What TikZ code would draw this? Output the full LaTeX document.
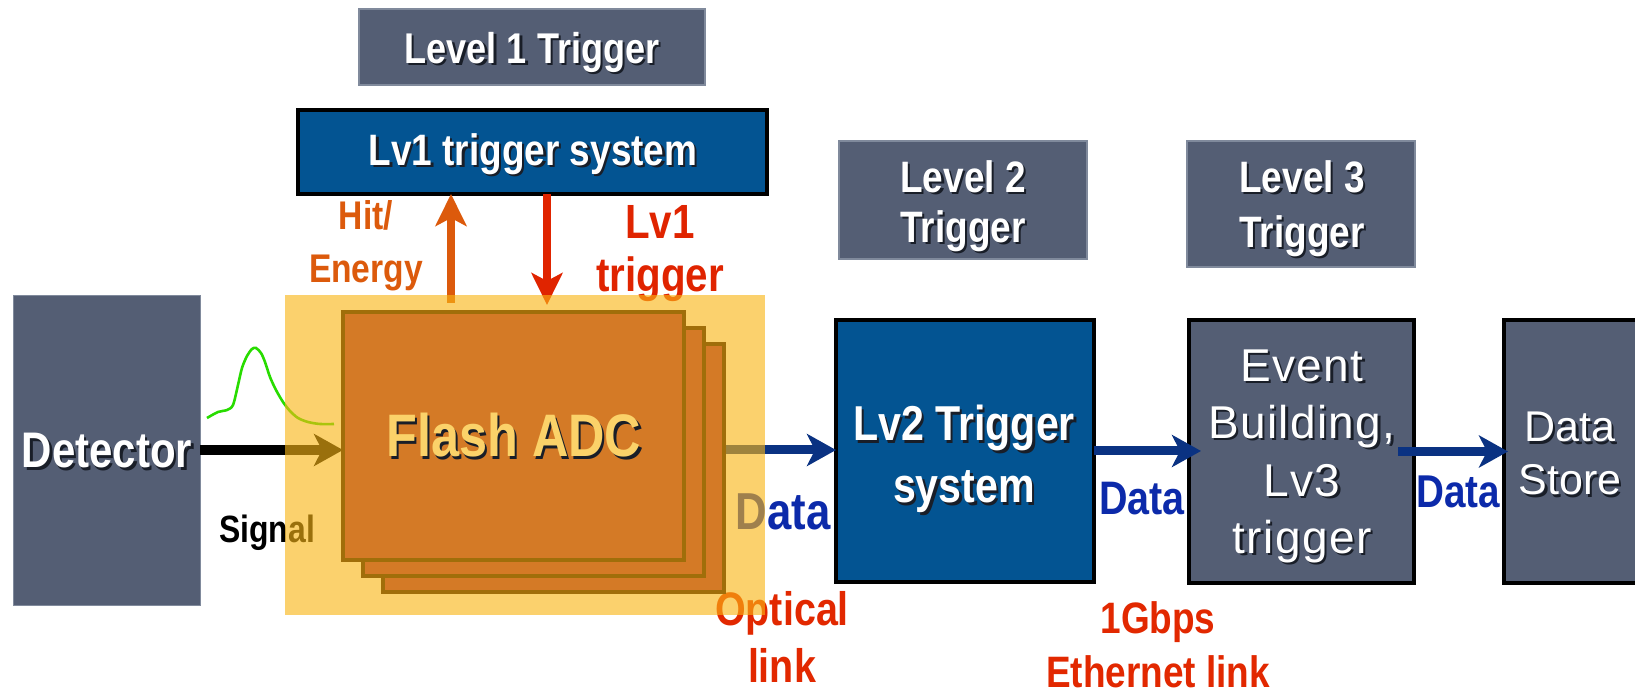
\documentclass[tikz,border=0pt]{standalone}
\usepackage{fontspec}
\setmainfont{Liberation Sans}
\newfontfamily\condfont[FakeStretch=0.84]{Liberation Sans}
\newfontfamily\widefont[LetterSpace=3]{Liberation Sans}
\usetikzlibrary{arrows.meta}

\definecolor{slate}{RGB}{84,94,116}
\definecolor{slateedge}{RGB}{128,138,156}
\definecolor{sysblue}{RGB}{3,84,146}
\definecolor{adcfill}{RGB}{212,122,38}
\definecolor{adcedge}{RGB}{160,110,10}
\definecolor{adctext}{RGB}{251,210,105}
\definecolor{haze}{RGB}{250,182,20}
\definecolor{datablue}{RGB}{12,42,170}
\definecolor{linkred}{RGB}{226,40,0}
\definecolor{hitorange}{RGB}{220,90,12}
\definecolor{trigred}{RGB}{224,36,0}
\definecolor{navy}{RGB}{10,50,130}
\definecolor{pulsegreen}{RGB}{40,220,0}
\definecolor{shade}{RGB}{25,30,40}

% white lettering with a small drop shadow
\newcommand\shd[1]{\makebox[0pt][l]{\kern1.2pt\raisebox{-1.2pt}{\textcolor{shade}{#1}}}#1}
\newcommand\fs[2]{\fontsize{#1}{#2}\selectfont}

\begin{document}
\begin{tikzpicture}[x=0.5pt,y=-0.5pt,
  blk/.style={rectangle, inner sep=0pt, outer sep=0pt},
  hdrbox/.style={blk, fill=slate, draw=slateedge, line width=0.6pt},
  sysbox/.style={blk, fill=sysblue, draw=black, line width=2pt},
  grybox/.style={blk, fill=slate, draw=black, line width=2pt},
  adcbox/.style={blk, fill=adcfill, draw=adcedge, line width=2pt,
                 minimum width=170.5pt, minimum height=124pt},
  lbl/.style={inner sep=0pt, align=center, anchor=north},
  bold/.style={lbl, font=\condfont\bfseries},
  thin/.style={lbl, font=\rmfamily},
  bigarrow/.style={-{Stealth[length=14.5pt,width=16pt,inset=4pt]}},
  vertarrow/.style={line width=4pt,-{Stealth[length=16pt,width=15.5pt,inset=4pt]}},
]
\useasboundingbox (0,0) rectangle (1635,694);
\fill[white] (0,0) rectangle (1635,694);

% ---- trigger level headers
\node[hdrbox, minimum width=173pt, minimum height=38pt] (hdr1) at (532,47) {};
\node[hdrbox, minimum width=124pt, minimum height=59pt] (hdr2) at (963,200) {};
\node[hdrbox, minimum width=114pt, minimum height=63pt] (hdr3) at (1301,204) {};
\node[bold, text=white, font=\condfont\bfseries\fs{21.5}{25}] (hdr1t) at (532,32) {\shd{Level 1 Trigger}};
\node[bold, text=white, font=\condfont\bfseries\fs{22}{25}] (hdr2t) at (963,160) {\shd{Level 2}\\\shd{Trigger}};
\node[bold, text=white, font=\condfont\bfseries\fs{22}{27.5}] (hdr3t) at (1302,160) {\shd{Level 3}\\\shd{Trigger}};

% ---- processing blocks
\node[sysbox, minimum width=234.5pt, minimum height=42pt] (lv1sys) at (532.5,152) {};
\node[bold, text=white, font=\condfont\bfseries\fs{22}{25}] (lv1syst) at (533,133) {\shd{Lv1 trigger system}};

\node[blk, fill=slate, draw=slateedge, line width=0.4pt, minimum width=93.5pt, minimum height=155pt] (det) at (106.5,450) {};
\node[bold, text=white, font=\condfont\bfseries\fs{25}{28}] (dett) at (107,433) {\shd{Detector}};

\node[sysbox, minimum width=129pt, minimum height=131pt] (lv2) at (965,451) {};
\node[bold, text=white, font=\condfont\bfseries\fs{24.5}{31}] (lv2t) at (964,405) {\shd{Lv2 Trigger}\\\shd{system}};

\node[grybox, minimum width=112.5pt, minimum height=131.5pt] (ev) at (1301.5,451.5) {};
\node[lbl, text=white, font=\widefont\fs{23}{28.75}] (evt) at (1302,349) {\shd{Event}\\\shd{Building,}\\\shd{Lv3}\\\shd{trigger}};

\node[grybox, minimum width=73pt, minimum height=131.5pt] (ds) at (1577,451.5) {};
\node[thin, text=white, font=\rmfamily\fs{21.5}{26.5}] (dst) at (1570,412) {\shd{Data}\\\shd{Store}};

% ---- signal path into the digitiser
\coordinate (hitfoot) at (451,303);
\coordinate (trigfoot) at (547,305);
\coordinate (fadcin) at (343,450);
\coordinate (fadcout) at (723,450);

\draw[bigarrow, line width=5pt, black] (det.east) -- (fadcin);
\draw[pulsegreen, line width=1.3pt] plot[smooth] coordinates {
  (207,418) (218,412) (227,410) (233,405) (238,385) (242,368) (247,356)
  (252,349) (256,348) (261,353) (265,362) (270,377) (276,390) (283,402)
  (290,411) (298,418) (308,422) (320,424) (334,424)};
\node[bold, text=black, font=\condfont\bfseries\fs{19}{22}] (sigt) at (267,515) {Signal};

% ---- level 1 exchange
\draw[vertarrow, hitorange] (hitfoot) -- (hitfoot |- lv1sys.south);
\draw[vertarrow, trigred] (trigfoot |- lv1sys.south) -- (trigfoot);
\node[bold, text=hitorange, font=\condfont\bfseries\fs{20}{26.5}] (hitt) at (366,200) {Hit/\\Energy};
\node[bold, text=trigred, font=\condfont\bfseries\fs{24}{26.5}] (lv1t) at (660,205) {Lv1\\trigger};

% ---- data links
\draw[bigarrow, line width=4.5pt, navy] (fadcout) -- (fadcout -| lv2.west);
\draw[bigarrow, line width=4.5pt, navy, shorten >=-6pt] (lv2.east) -- (lv2.east -| ev.west);
\draw[bigarrow, line width=4.5pt, navy, shorten <=-8pt, shorten >=-2pt] (ev.east) -- (ev.east -| ds.west);

\node[bold, text=datablue, font=\condfont\bfseries\fs{26}{30}] (data1) at (783,493) {Data};
\node[bold, text=datablue, font=\condfont\bfseries\fs{23.5}{27}] (data2) at (1142,482) {Data};
\node[bold, text=datablue, font=\condfont\bfseries\fs{23}{27}] (data3) at (1458,475) {Data};
\node[bold, text=linkred, font=\condfont\bfseries\fs{23.5}{28.5}] (optt) at (782,591) {Optical\\link};
\node[bold, text=linkred, font=\condfont\bfseries\fs{22}{27}] (ethert) at (1158,601) {1Gbps\\Ethernet link};

% ---- translucent board area and the stacked Flash ADC cards
\node[blk, fill=haze, fill opacity=0.62, minimum width=240pt, minimum height=160pt] (board) at (525,455) {};
\node[adcbox] (fadc3) at (553,468) {};
\node[adcbox] (fadc2) at (533.5,452.5) {};
\node[adcbox] (fadc1) at (513.5,436) {};
\node[bold, text=adctext, font=\condfont\bfseries\fs{30}{34}] (fadct) at (514,413) {\shd{Flash ADC}};
\end{tikzpicture}
\end{document}
